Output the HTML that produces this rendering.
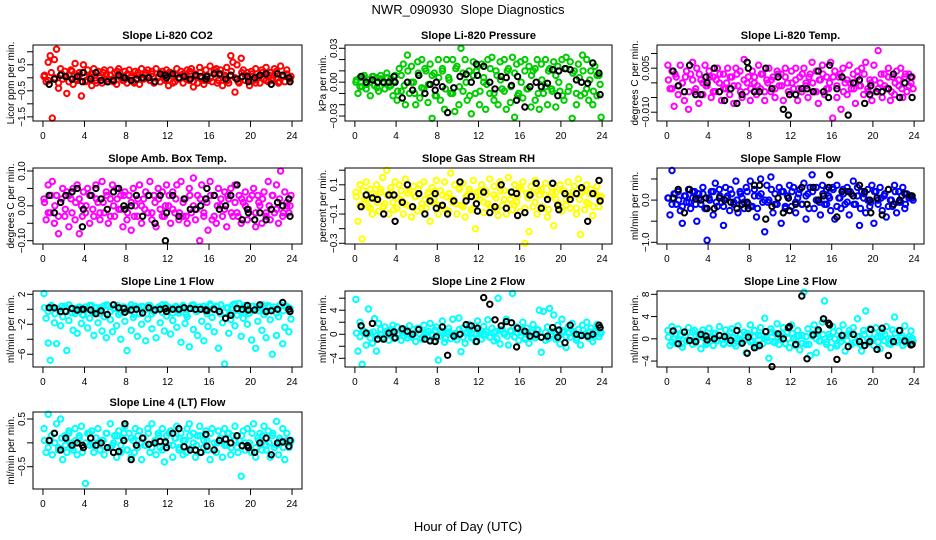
<!DOCTYPE html>
<html><head><meta charset="utf-8"><style>
html,body{margin:0;padding:0;background:#fff}
svg{display:block;font-family:"Liberation Sans",Arial,sans-serif}
</style></head><body>
<svg id="chart" width="936" height="540" viewBox="0 0 936 540" xmlns="http://www.w3.org/2000/svg">
<rect width="936" height="540" fill="#fff"/>
<text x="468" y="14" font-size="13" text-anchor="middle" style="white-space:pre">NWR_090930  Slope Diagnostics</text>
<text x="468" y="531" font-size="13" text-anchor="middle">Hour of Day (UTC)</text>
</svg>
<script>
const xTicks=[0,4,8,12,16,20,24];
const colorHours=[0.1,0.3,0.5,0.7,0.9,1.1,1.3,1.5,1.7,1.9,2.1,2.3,2.5,2.7,2.9,3.1,3.3,3.5,3.7,3.9,4.1,4.3,4.5,4.7,4.9,5.1,5.3,5.5,5.7,5.9,6.1,6.3,6.5,6.7,6.9,7.1,7.3,7.5,7.7,7.9,8.1,8.3,8.5,8.7,8.9,9.1,9.3,9.5,9.7,9.9,10.1,10.3,10.5,10.7,10.9,11.1,11.3,11.5,11.7,11.9,12.1,12.3,12.5,12.7,12.9,13.1,13.3,13.5,13.7,13.9,14.1,14.3,14.5,14.7,14.9,15.1,15.3,15.5,15.7,15.9,16.1,16.3,16.5,16.7,16.9,17.1,17.3,17.5,17.7,17.9,18.1,18.3,18.5,18.7,18.9,19.1,19.3,19.5,19.7,19.9,20.1,20.3,20.5,20.7,20.9,21.1,21.3,21.5,21.7,21.9,22.1,22.3,22.5,22.7,22.9,23.1,23.3,23.5,23.7,23.9];
const coreHours=[0.15,0.5,0.8,1.15,1.5,1.8,2.15,2.5,2.8,3.15,3.5,3.8,4.15,4.5,4.8,5.15,5.5,5.8,6.15,6.5,6.8,7.15,7.5,7.8,8.15,8.5,8.8,9.15,9.5,9.8,10.15,10.5,10.8,11.15,11.5,11.8,12.15,12.5,12.8,13.15,13.5,13.8,14.15,14.5,14.8,15.15,15.5,15.8,16.15,16.5,16.8,17.15,17.5,17.8,18.15,18.5,18.8,19.15,19.5,19.8,20.15,20.5,20.8,21.15,21.5,21.8,22.15,22.5,22.8,23.15,23.5,23.8];
const blackHours=[0.6,1.1,1.7,2.2,2.8,3.3,3.8,3.9,4.6,5.1,5.6,6.2,6.8,7.3,7.8,7.9,8.5,9.0,9.6,10.2,10.8,11.3,11.8,11.9,12.5,13.1,13.6,14.2,14.7,15.2,15.7,15.8,16.5,17.0,17.6,18.1,18.7,19.2,19.7,19.8,20.4,20.9,21.5,22.0,22.6,23.1,23.7,23.8];

const co2Vals=[0.05,-0.15,0.6,0.85,-1.55,0.7,1.1,-0.4,0.35,-0.05,0.25,-0.6,0.1,0.3,-0.25,0.55,-0.1,0.2,-0.7,0.5,-0.15,0.3,0.05,-0.3,0.35,-0.1,0.25,0.0,-0.2,0.3,0.1,-0.15,0.3,-0.05,0.2,-0.25,0.35,0.05,-0.1,0.25,-0.2,0.3,0.0,-0.15,0.25,0.1,-0.25,0.35,-0.05,0.2,0.3,-0.1,0.15,-0.2,0.35,0.0,-0.15,0.25,-0.05,0.3,-0.3,0.2,0.05,-0.15,0.35,-0.05,0.25,-0.2,0.1,0.3,-0.1,0.35,-0.35,0.15,-0.2,0.4,0.0,-0.25,0.3,-0.1,0.45,-0.15,0.2,0.35,-0.1,0.3,-0.3,0.1,0.4,-0.2,0.85,0.6,-0.55,0.5,-0.2,0.75,0.3,-0.1,0.2,-0.3,0.25,-0.1,0.35,0.0,-0.2,0.3,-0.05,0.4,-0.15,0.2,-0.1,0.35,0.0,-0.2,0.45,0.1,-0.15,0.3,0.0,0.05];
const co2Core=[0.1,-0.1,0.2,0.0,-0.2,0.15,0.05,-0.15,0.25,-0.05,0.1,0.2,-0.1,0.0,0.15,-0.2,0.05,0.2,-0.05,0.1,-0.15,0.25,0.0,-0.1,0.15,0.05,-0.2,0.2,-0.05,0.1,0.0,0.25,-0.15,0.05,0.15,-0.1,0.2,-0.2,0.1,0.0,0.15,-0.05,0.25,-0.15,0.05,0.2,-0.1,0.1,0.0,0.3,-0.2,0.15,0.05,-0.1,0.25,0.0,-0.15,0.2,0.1,-0.05,0.15,-0.2,0.05,0.2,-0.1,0.1,0.0,0.25,-0.15,0.05,0.15,-0.05];
const co2Black=[-0.25,-0.05,0.1,0.05,-0.05,0.05,-0.15,0.2,-0.05,0.2,-0.1,-0.15,-0.1,0.1,0.0,0.0,-0.1,-0.05,0.0,0.0,-0.15,0.15,0.1,0.0,0.15,0.0,0.05,-0.05,0.1,0.05,-0.05,0.05,0.15,0.15,-0.05,0.1,-0.05,0.05,0.05,-0.15,0.0,0.1,0.15,-0.25,0.15,0.1,0.0,-0.15];

const presVals=[0.0,-0.01,0.004,-0.004,0.006,-0.006,0.002,-0.012,0.005,-0.003,0.004,-0.008,0.006,0.0,-0.006,0.008,-0.004,0.003,-0.012,0.006,-0.016,0.012,-0.008,0.016,-0.02,0.024,-0.01,0.014,0.0,-0.02,0.018,-0.014,0.02,-0.006,0.01,-0.018,0.016,-0.032,0.008,-0.012,0.02,-0.016,0.012,-0.024,0.02,0.004,-0.01,0.02,-0.026,0.014,-0.02,0.03,-0.008,0.02,-0.016,0.01,-0.028,0.018,-0.01,0.014,-0.02,0.016,0.0,-0.024,0.02,-0.01,0.022,-0.016,0.01,-0.02,0.018,-0.006,0.02,-0.024,0.012,-0.018,0.022,-0.031,0.016,-0.01,0.018,-0.014,0.02,-0.006,0.014,-0.022,0.01,-0.016,0.02,-0.024,0.016,-0.01,0.02,-0.02,0.012,-0.006,0.018,-0.022,0.014,-0.008,0.02,-0.016,0.022,-0.008,0.018,-0.032,0.01,-0.02,0.016,-0.012,0.024,-0.01,0.02,-0.016,0.01,-0.02,0.014,-0.012,0.006,-0.031];
const presCore=[0.002,-0.004,0.004,-0.002,0.0,0.005,-0.005,0.003,-0.001,0.004,-0.003,0.001,-0.008,0.006,-0.003,0.01,0.0,-0.01,0.008,-0.005,0.012,-0.002,0.006,-0.012,0.004,0.01,-0.006,0.002,-0.01,0.012,-0.004,0.008,0.0,-0.012,0.006,0.01,-0.008,0.004,-0.002,0.012,-0.01,0.006,0.002,-0.008,0.01,-0.004,0.008,-0.012,0.0,0.01,-0.006,0.006,0.012,-0.01,0.002,-0.004,0.01,-0.008,0.006,0.0,-0.012,0.012,-0.004,0.008,-0.01,0.004,0.01,-0.006,0.002,-0.008,0.006,-0.002];
const presBlack=[0.005,0.0,0.002,0.0,0.0,0.0,0.005,0.0,-0.014,0.0,-0.007,0.006,-0.01,-0.002,-0.007,0.0,-0.004,-0.027,-0.005,0.005,0.007,0.0,0.016,0.006,0.014,0.0,-0.006,0.005,0.004,-0.003,-0.016,0.005,-0.022,-0.004,0.0,-0.004,-0.001,0.011,-0.012,0.01,0.012,0.011,0.002,0.0,-0.001,0.017,0.008,-0.011];

const ltempVals=[0.006,-0.002,0.004,-0.008,0.002,-0.004,0.006,0.0,-0.006,0.004,-0.009,0.003,0.007,-0.003,0.005,-0.007,0.001,-0.004,0.006,-0.001,0.004,-0.005,0.002,-0.003,0.005,0.0,-0.006,0.003,-0.002,0.005,-0.004,0.002,-0.007,0.005,-0.001,0.004,-0.005,0.008,-0.003,0.002,-0.006,0.004,0.0,-0.004,0.006,-0.002,0.003,-0.006,0.001,0.005,-0.003,0.002,-0.005,0.004,-0.001,0.003,-0.006,0.005,0.0,-0.004,0.004,-0.002,0.005,-0.006,0.002,-0.003,0.005,0.0,-0.005,0.003,0.007,-0.003,0.004,-0.007,0.001,0.006,-0.004,0.002,-0.002,0.007,-0.012,0.004,-0.005,0.002,-0.009,0.005,0.0,-0.004,0.006,-0.002,0.003,-0.007,0.004,-0.001,0.005,-0.004,0.007,-0.002,0.001,-0.006,0.006,-0.003,0.011,0.0,-0.005,0.003,-0.002,0.005,-0.006,0.002,-0.004,0.004,-0.001,0.005,-0.005,0.002,-0.003,0.003,0.0,-0.002];
const ltempCore=[0.001,-0.002,0.003,-0.001,0.0,0.002,-0.003,0.001,-0.002,0.003,0.0,-0.001,0.002,-0.003,0.001,0.003,-0.002,0.0,0.002,-0.001,0.003,-0.003,0.001,0.0,-0.002,0.002,-0.001,0.003,-0.003,0.0,0.001,-0.002,0.003,-0.001,0.002,-0.003,0.0,0.001,-0.002,0.003,-0.001,0.002,0.0,-0.003,0.001,0.003,-0.002,0.0,0.002,-0.001,0.003,-0.003,0.001,0.0,-0.002,0.002,-0.001,0.003,-0.003,0.0,0.001,-0.002,0.003,-0.001,0.002,-0.003,0.0,0.001,-0.002,0.003,-0.001,0.002];
const ltempBlack=[0.004,-0.001,-0.003,0.006,-0.004,-0.004,0.002,0.0,0.005,-0.003,-0.006,-0.002,-0.007,-0.004,0.007,0.005,-0.003,-0.003,0.005,-0.002,0.002,-0.009,-0.011,-0.004,-0.004,-0.002,-0.002,-0.003,0.004,-0.003,-0.005,0.006,-0.002,0.002,-0.011,0.0,0.001,-0.007,-0.004,-0.001,-0.003,-0.003,-0.002,0.003,-0.005,0.0,0.002,-0.005];

const ambVals=[0.02,-0.04,0.06,-0.02,0.07,-0.05,0.03,-0.08,0.01,0.05,-0.03,0.04,-0.06,0.02,0.05,-0.04,0.06,-0.08,0.0,0.04,-0.02,0.05,-0.05,0.03,-0.03,0.06,0.01,-0.04,0.07,-0.02,0.04,-0.05,0.02,0.06,-0.03,0.05,-0.01,0.03,-0.06,0.04,-0.04,0.03,-0.07,0.05,0.0,-0.03,0.06,-0.05,0.02,0.04,-0.02,0.07,-0.04,0.03,-0.06,0.05,-0.01,0.04,-0.03,0.06,0.0,-0.05,0.04,-0.02,0.06,-0.04,0.07,-0.03,0.02,-0.05,0.05,-0.02,0.08,-0.04,0.03,-0.1,0.06,-0.03,0.02,-0.07,0.07,-0.04,0.03,-0.05,0.05,0.0,-0.03,0.04,-0.06,0.02,0.05,-0.03,0.06,-0.02,0.03,-0.05,0.01,0.04,-0.04,0.02,-0.03,0.05,-0.06,0.03,0.0,-0.05,0.04,-0.02,0.07,-0.04,0.03,-0.02,0.06,-0.05,0.1,-0.03,0.04,0.0,-0.02,0.03];
const ambCore=[0.01,-0.02,0.03,0.0,-0.03,0.02,-0.01,0.03,-0.02,0.01,0.02,-0.03,0.0,0.03,-0.01,0.02,-0.02,0.01,0.03,-0.03,0.0,0.02,-0.01,0.03,-0.02,0.01,-0.03,0.02,0.0,-0.01,0.03,-0.02,0.01,0.02,-0.03,0.0,0.03,-0.01,0.02,-0.02,0.01,-0.03,0.03,0.0,-0.01,0.02,-0.02,0.01,0.03,-0.03,0.0,0.02,-0.01,0.03,-0.02,0.01,-0.03,0.02,0.0,-0.01,0.03,-0.02,0.01,0.02,-0.03,0.0,0.03,-0.01,0.02,-0.02,0.01,0.0];
const ambBlack=[0.03,-0.02,0.01,0.03,0.04,0.05,-0.06,-0.01,0.03,0.05,0.02,-0.01,0.04,0.05,0.0,-0.01,0.0,0.03,-0.03,0.03,-0.05,0.03,-0.1,-0.02,0.03,-0.03,0.02,-0.01,-0.01,0.0,0.02,0.05,0.03,-0.01,0.0,0.03,0.06,-0.04,-0.01,-0.02,-0.04,-0.02,-0.04,-0.01,0.01,0.0,0.02,-0.03];

const rhVals=[0.05,-0.15,0.1,-0.27,0.0,0.12,-0.05,0.07,-0.1,0.02,0.1,-0.08,0.05,0.15,-0.03,0.2,-0.1,0.08,-0.02,0.12,-0.06,0.1,0.0,-0.1,0.14,-0.04,0.06,-0.12,0.09,0.02,-0.08,0.1,-0.03,0.12,-0.06,0.04,-0.15,0.08,0.0,0.13,-0.1,0.06,-0.05,0.12,0.02,-0.08,0.18,-0.02,0.1,-0.1,0.08,-0.04,0.11,-0.12,0.03,0.07,-0.07,0.13,-0.2,0.05,0.0,0.1,-0.09,0.06,-0.03,0.14,-0.06,0.09,0.01,-0.11,0.12,-0.04,0.06,-0.1,0.15,0.0,-0.07,0.1,-0.02,0.08,-0.08,0.12,-0.3,0.04,-0.22,0.09,-0.05,0.13,-0.1,0.03,0.07,-0.06,0.11,-0.12,0.02,0.08,-0.18,0.05,-0.04,0.1,-0.08,0.06,0.0,0.12,-0.06,0.03,0.09,-0.1,0.14,-0.24,0.05,-0.07,0.1,-0.03,0.07,-0.11,0.04,0.09,-0.05,0.02];
const rhCore=[0.02,-0.04,0.06,0.0,-0.06,0.04,-0.02,0.07,-0.05,0.03,0.05,-0.07,0.01,0.06,-0.03,0.04,-0.05,0.02,0.07,-0.06,0.0,0.05,-0.02,0.06,-0.04,0.03,-0.07,0.04,0.0,-0.03,0.07,-0.05,0.02,0.05,-0.06,0.01,0.06,-0.02,0.04,-0.05,0.03,-0.07,0.06,0.0,-0.03,0.05,-0.04,0.02,0.07,-0.06,0.01,0.04,-0.02,0.06,-0.05,0.03,-0.07,0.05,0.0,-0.03,0.06,-0.04,0.02,0.05,-0.06,0.0,0.07,-0.02,0.04,-0.05,0.03,0.01];
const rhBlack=[-0.05,0.03,0.01,0.0,-0.1,0.03,0.03,-0.15,-0.02,0.1,-0.05,0.04,-0.1,-0.01,0.04,-0.06,-0.04,-0.1,-0.01,0.12,-0.01,0.02,-0.03,-0.08,0.05,-0.09,-0.05,0.1,-0.06,0.05,0.04,-0.11,-0.09,0.03,0.11,-0.06,0.0,0.11,-0.04,-0.07,0.04,0.0,0.04,0.08,-0.15,0.04,0.13,-0.01];

const sampVals=[0.05,-0.35,0.7,0.15,-0.1,0.2,-0.25,-0.55,0.1,-0.05,0.25,-0.2,0.05,0.2,-0.5,0.15,-0.1,0.3,-0.2,-0.95,0.05,0.2,-0.35,0.4,-0.15,0.25,-0.05,-0.6,0.3,0.1,-0.25,0.15,-0.05,0.45,-0.3,0.2,0.05,-0.2,0.3,-0.1,0.45,-0.15,0.25,-0.4,0.1,0.5,-0.05,-0.75,0.35,0.0,0.55,-0.3,0.15,-0.1,0.3,-0.55,0.2,-0.2,0.1,0.35,-0.15,0.3,-0.3,0.05,0.25,-0.1,0.4,-0.45,0.15,0.3,0.6,-0.2,0.3,0.0,-0.35,0.35,-0.1,0.25,0.1,-0.25,0.3,-0.45,0.35,0.05,-0.2,0.25,-0.1,0.3,-0.35,0.15,0.45,-0.1,0.3,-0.6,0.2,0.05,-0.3,0.25,-0.15,0.35,-0.55,0.2,0.0,0.3,-0.25,0.1,-0.4,0.25,0.0,-0.15,0.35,-0.3,0.2,-0.05,0.3,-0.2,0.15,0.05,0.1,0.0];
const sampCore=[0.05,-0.1,0.15,0.0,-0.15,0.1,-0.05,0.2,-0.1,0.05,0.15,-0.2,0.0,0.2,-0.05,0.1,-0.15,0.05,0.25,-0.1,0.0,0.15,-0.05,0.2,-0.15,0.1,-0.2,0.15,0.0,-0.05,0.25,-0.1,0.05,0.2,-0.15,0.05,0.2,-0.05,0.15,-0.1,0.1,-0.2,0.2,0.0,-0.05,0.15,-0.1,0.05,0.25,-0.15,0.05,0.15,-0.05,0.2,-0.1,0.1,-0.2,0.15,0.0,-0.05,0.2,-0.1,0.05,0.15,-0.15,0.0,0.2,-0.05,0.1,-0.1,0.1,0.05];
const sampBlack=[0.05,0.25,-0.3,0.25,0.03,0.0,0.05,-0.2,-0.2,0.05,0.0,-0.05,-0.2,-0.1,-0.05,-0.2,0.35,0.35,-0.45,-0.15,0.05,-0.3,0.05,-0.25,-0.1,0.3,-0.1,0.3,0.0,0.1,0.3,0.6,-0.4,0.2,0.2,0.1,0.35,0.2,0.0,-0.3,0.05,-0.35,0.25,-0.1,0.0,0.15,0.1,0.1];

const l1Vals=[2.1,-1.2,-4.5,-6.8,0.3,-1.8,-4.6,0.0,-2.2,-1.0,0.4,-5.5,-1.5,0.2,-2.8,-0.6,-3.2,0.1,-1.9,-0.8,0.3,-2.5,-1.2,0.5,-3.5,-0.4,-1.8,0.2,-2.9,-1.0,-3.8,0.4,-1.4,-3.0,0.1,-2.2,-0.7,-4.0,0.3,-1.6,-5.5,0.2,-2.8,-1.1,0.4,-3.6,-0.6,-2.0,0.3,-4.2,-1.3,0.5,-2.6,-0.3,-3.8,0.1,-1.8,0.6,-2.9,-0.9,0.3,-3.3,-1.5,0.2,-2.4,-0.5,-4.4,0.4,-1.9,-1.0,-5.0,0.5,-2.7,-0.2,-3.5,0.3,-1.6,-4.2,0.1,-2.3,0.7,-1.1,-3.0,0.4,-5.2,-0.6,-1.8,-7.3,0.2,-3.2,-1.4,0.6,-2.2,-0.8,0.8,-3.6,-1.2,0.3,-2.0,-0.5,-4.1,0.4,-5.2,-1.6,0.2,-2.8,-0.7,-3.8,0.5,-1.4,-6.0,0.3,-3.5,-1.0,0.6,-4.6,-2.4,0.2,-3.0,-1.3];
const l1Core=[0.2,-0.3,0.5,-0.6,0.0,0.4,-0.2,0.6,-0.5,0.1,0.3,-0.7,0.0,0.5,-0.4,0.2,-0.6,0.4,0.6,-0.3,0.1,0.5,-0.5,0.3,-0.2,0.6,-0.7,0.2,0.4,-0.1,0.5,-0.6,0.0,0.3,-0.4,0.6,0.1,-0.5,0.4,-0.2,0.5,-0.7,0.2,0.6,-0.3,0.0,0.4,-0.6,0.5,-0.1,0.3,0.6,-0.4,0.2,-0.5,0.7,0.0,-0.3,0.5,-0.6,0.4,0.1,-0.2,0.6,-0.4,0.3,0.0,-0.5,0.5,-0.2,0.4,0.1];
const l1Black=[0.2,0.2,-0.3,-0.3,0.1,-0.1,0.0,0.0,-0.1,-0.6,-0.2,-0.7,0.6,0.2,0.1,-0.4,-0.1,0.0,-0.5,0.2,-0.1,0.0,0.1,-0.3,0.0,0.0,0.2,0.1,0.0,0.0,-0.1,-0.2,0.0,-0.3,-1.2,-0.8,0.1,0.0,0.5,-0.1,-0.1,0.6,-0.3,-0.2,0.0,0.9,0.0,-0.3];

const l2Vals=[5.8,-2.8,2.0,-5.0,0.5,-1.8,4.2,0.2,-1.5,2.6,-2.8,1.8,0.0,-0.8,1.2,0.5,-1.0,0.8,1.5,-0.5,1.2,0.0,-1.0,0.9,0.3,-0.6,1.4,-0.2,0.8,-1.2,1.0,0.0,-0.8,1.5,0.4,-0.4,1.8,0.0,-1.1,1.2,-4.3,0.6,2.2,-1.3,0.3,1.0,-0.7,2.5,0.1,-0.9,2.7,-2.9,1.0,-1.5,0.4,1.6,-0.6,0.9,-1.2,2.2,0.2,-0.8,1.3,0.0,2.4,-0.5,1.0,-1.1,0.5,6.0,-1.6,0.8,0.2,2.5,-1.8,0.6,6.8,-0.4,1.2,-1.0,0.4,2.0,-0.8,1.0,-1.5,0.3,1.6,-0.6,0.8,4.0,-3.0,3.8,-1.0,1.2,4.3,0.0,3.2,-0.8,1.5,-1.6,2.5,0.4,-2.2,1.2,-0.5,1.8,0.2,-1.0,0.8,-1.8,1.5,0.0,2.0,-0.6,1.0,-1.2,0.5,1.6,-0.4,0.3];
const l2Core=[0.2,-0.4,0.6,0.0,-0.6,0.4,-0.2,0.8,-0.5,0.3,0.6,-0.7,0.1,0.7,-0.3,0.4,-0.5,0.2,0.8,-0.6,0.0,0.5,-0.2,0.7,-0.4,0.3,-0.7,0.4,0.0,-0.3,0.8,-0.5,0.2,0.6,-0.6,0.1,0.7,-0.2,0.4,-0.5,0.3,-0.7,0.6,0.0,-0.3,0.5,-0.4,0.2,0.8,-0.6,0.1,0.4,-0.2,0.7,-0.5,0.3,-0.7,0.5,0.0,-0.3,0.6,-0.4,0.2,0.5,-0.6,0.0,0.7,-0.2,0.4,-0.5,0.3,0.1];
const l2Black=[1.4,0.2,1.8,-0.8,-0.8,0.2,0.4,-0.6,0.9,0.5,0.0,0.8,-0.8,-1.1,-1.2,-0.4,1.2,-3.5,-0.3,0.0,1.6,1.4,-1.2,1.0,6.1,5.0,2.4,1.4,2.1,1.9,-2.1,1.0,0.5,-0.3,0.0,-0.5,-0.3,1.1,-0.5,0.7,-1.4,1.5,0.0,-0.2,-0.3,0.0,1.5,1.1];

const l3Vals=[1.5,-1.2,2.2,0.0,-0.8,1.8,0.5,-1.5,1.2,-0.4,2.0,0.3,-1.0,1.5,-0.2,0.8,-1.8,1.6,0.0,-0.7,1.9,0.4,-1.2,1.0,-0.3,2.2,0.0,-1.0,1.6,0.5,-0.8,1.8,0.2,-1.3,2.3,0.0,-0.6,1.2,-2.5,0.8,2.5,-0.4,1.5,-1.5,0.6,2.0,-0.9,3.7,0.2,-3.5,1.8,-0.5,1.0,2.7,-1.0,0.4,2.0,-0.8,1.2,-1.6,2.5,0.0,-1.2,1.5,-2.0,0.6,8.4,-1.0,1.8,-3.0,0.5,2.5,-2.5,1.2,-0.4,3.0,6.8,-1.0,0.8,-1.6,2.2,0.0,-1.3,1.4,-0.5,2.5,-2.2,0.8,1.5,-1.0,2.0,-0.6,3.6,0.4,-2.2,1.5,5.0,-0.8,1.8,0.0,-1.2,2.0,0.4,-1.8,1.2,-0.3,2.2,0.0,-1.0,1.6,3.9,-0.6,1.5,0.2,-1.2,2.3,0.0,-0.8,1.4,-0.4];
const l3Core=[0.3,-0.6,0.9,0.0,-0.9,0.6,-0.3,1.2,-0.7,0.4,0.9,-1.0,0.1,1.0,-0.4,0.6,-0.8,0.3,1.2,-0.9,0.0,0.8,-0.3,1.0,-0.6,0.4,-1.0,0.6,0.0,-0.4,1.2,-0.7,0.3,0.9,-0.9,0.1,1.0,-0.3,0.6,-0.8,0.4,-1.0,0.9,0.0,-0.4,0.8,-0.6,0.3,1.2,-0.9,0.1,0.6,-0.3,1.0,-0.7,0.4,-1.0,0.8,0.0,-0.4,0.9,-0.6,0.3,0.8,-0.9,0.0,1.0,-0.3,0.6,-0.7,0.4,0.1];
const l3Black=[1.4,-0.9,1.2,-0.3,-0.5,0.8,0.5,-0.2,0.0,0.6,0.4,-0.3,1.5,-0.8,-2.6,0.3,-1.6,-1.2,1.3,-5.0,0.9,0.0,2.0,2.2,-1.0,7.7,-3.6,0.7,1.6,3.6,2.8,2.5,-3.7,0.6,-1.4,0.8,-0.5,-1.2,-0.5,1.7,-1.9,1.9,-3.0,-0.5,1.5,-0.4,-1.1,-1.0];

const l4Vals=[0.3,-0.2,0.6,0.05,-0.25,0.2,0.4,-0.1,0.5,-0.35,0.15,-0.2,0.25,0.0,-0.15,0.3,-0.25,0.1,0.35,-0.1,-0.85,0.2,-0.05,0.25,-0.2,0.1,0.3,-0.15,0.05,-0.25,0.2,-0.1,0.4,-0.05,0.15,-0.3,0.25,-0.2,0.1,0.35,-0.15,0.2,-0.3,0.05,0.3,-0.1,0.25,-0.35,0.1,-0.05,0.3,-0.2,0.4,0.0,-0.25,0.2,-0.1,0.3,-0.4,0.15,-0.05,0.25,-0.3,0.1,0.35,-0.15,0.2,-0.25,0.05,0.3,0.4,-0.1,0.2,-0.3,0.15,0.35,-0.2,0.05,0.25,-0.15,-0.35,0.3,0.0,-0.2,0.25,0.1,-0.3,0.3,-0.05,0.2,-0.25,0.15,0.35,-0.1,0.05,-0.7,0.25,-0.15,0.3,0.0,-0.2,0.4,-0.3,0.1,0.2,-0.15,0.35,-0.05,0.25,-0.3,0.15,-0.1,0.45,-0.25,0.05,0.3,-0.35,0.2,-0.1,0.05];
const l4Core=[0.05,-0.1,0.15,0.0,-0.15,0.1,-0.05,0.2,-0.1,0.05,0.15,-0.2,0.0,0.2,-0.05,0.1,-0.15,0.05,0.2,-0.1,0.0,0.15,-0.05,0.2,-0.15,0.1,-0.2,0.15,0.0,-0.05,0.2,-0.1,0.05,0.15,-0.15,0.0,0.2,-0.05,0.1,-0.1,0.05,-0.2,0.15,0.0,-0.05,0.15,-0.1,0.05,0.2,-0.15,0.0,0.1,-0.05,0.2,-0.1,0.05,-0.2,0.15,0.0,-0.05,0.2,-0.1,0.05,0.15,-0.15,0.0,0.2,-0.05,0.1,-0.1,0.05,0.0];
const l4Black=[0.05,0.2,-0.15,0.1,-0.05,0.0,-0.05,-0.1,0.1,-0.05,0.0,-0.1,-0.2,-0.18,0.05,0.4,-0.35,-0.05,0.1,-0.03,0.0,0.03,0.02,-0.1,0.2,0.3,-0.08,-0.15,-0.15,-0.2,0.18,-0.07,-0.15,0.05,0.08,0.0,0.15,-0.06,-0.06,-0.1,-0.2,0.0,0.1,-0.25,0.0,0.02,-0.07,0.05];

const panelTitles=["Slope Li-820 CO2","Slope Li-820 Pressure","Slope Li-820 Temp.","Slope Amb. Box Temp.","Slope Gas Stream RH","Slope Sample Flow","Slope Line 1 Flow","Slope Line 2 Flow","Slope Line 3 Flow","Slope Line 4 (LT) Flow"];
const yTitles=["Licor ppm per min.","kPa per min.","degrees C per min.","degrees C per min.","percent per min.","ml/min per min.","ml/min per min.","ml/min per min.","ml/min per min.","ml/min per min."];
const yTicks=[[-1.5,-1,-0.5,0,0.5,1],[-0.03,-0.02,-0.01,0,0.01,0.02,0.03],[-0.01,-0.005,0,0.005,0.01],[-0.1,-0.05,0,0.05,0.1],[-0.3,-0.2,-0.1,0,0.1,0.2],[-1,-0.5,0,0.5],[-6,-4,-2,0,2],[-4,-2,0,2,4,6],[-4,0,4,8],[-0.5,0,0.5]];
const yTickLabels=[["-1.5","","-0.5","","0.5",""],["-0.03","","","0.00","","","0.03"],["-0.010","","","0.005",""],["-0.10","","0.00","","0.10"],["-0.3","","-0.1","","0.1",""],["-1.0","","0.0",""],["-6","","-2","","2"],["-4","","0","","4",""],["-4","0","4","8"],["-0.5","","0.5"]];
const yLims=[[-1.66,1.26],[-0.0344,0.0329],[-0.013,0.0129],[-0.1095,0.1086],[-0.305,0.215],[-1.04,0.76],[-7.7,2.44],[-5.45,7.2],[-5.07,8.6],[-0.967,0.647]];
const colorVals=[co2Vals,presVals,ltempVals,ambVals,rhVals,sampVals,l1Vals,l2Vals,l3Vals,l4Vals];
const coreVals=[co2Core,presCore,ltempCore,ambCore,rhCore,sampCore,l1Core,l2Core,l3Core,l4Core];
const blackVals=[co2Black,presBlack,ltempBlack,ambBlack,rhBlack,sampBlack,l1Black,l2Black,l3Black,l4Black];
const seriesColors=["#ff0000","#00cd00","#ff00ff","#ff00ff","#ffff00","#0000ff","#00ffff","#00ffff","#00ffff","#00ffff"];

const colBox=[[33,302],[345,612],[657,924]];
const rowBox=[[45,121],[168,244],[291,367],[412,489]];
const NS="http://www.w3.org/2000/svg";
const svg=document.getElementById('chart');
function mk(tag,attrs,parent){const e=document.createElementNS(NS,tag);for(const k in attrs)e.setAttribute(k,attrs[k]);(parent||svg).appendChild(e);return e;}

for(let p=0;p<10;p++){
  const c=p%3,r=Math.floor(p/3);
  const L=colBox[c][0],R=colBox[c][1],T=rowBox[r][0],B=rowBox[r][1];
  const lo=yLims[p][0],hi=yLims[p][1];
  const xS=h=>L+(h+0.96)/25.92*(R-L);
  const yS=v=>B-(v-lo)/(hi-lo)*(B-T);
  const g=mk('g',{});
  
  
  const t=mk('text',{x:(L+R)/2,y:T-6,'font-size':11,'font-weight':'bold','text-anchor':'middle'},g);
  
  
  t.textContent=panelTitles[p];
  const yt=mk('text',{transform:`translate(${L-19},${(T+B)/2}) rotate(-90)`,'font-size':10,'text-anchor':'middle'},g);
  
  
  yt.textContent=yTitles[p];
  const pts=mk('g',{fill:'none','stroke-width':2,stroke:seriesColors[p]},g);
  
  
  const cv=colorVals[p];
  for(let i=0;i<Math.min(cv.length,colorHours.length);i++){
    const ci=mk('circle',{cx:xS(colorHours[i]).toFixed(1),cy:yS(cv[i]).toFixed(1),r:2.7},pts);
    
    
  }
  const kv=coreVals[p];
  for(let i=0;i<Math.min(kv.length,coreHours.length);i++){
    const ci=mk('circle',{cx:xS(coreHours[i]).toFixed(1),cy:yS(kv[i]).toFixed(1),r:2.7},pts);
    
    
  }
  const bpts=mk('g',{fill:'none','stroke-width':2,stroke:'#000'},g);
  
  
  const bv=blackVals[p];
  for(let i=0;i<Math.min(bv.length,blackHours.length);i++){
    const ci=mk('circle',{cx:xS(blackHours[i]).toFixed(1),cy:yS(bv[i]).toFixed(1),r:2.7},bpts);
    
    
  }
  const box=mk('rect',{x:L,y:T,width:R-L,height:B-T,fill:'none',stroke:'#000','stroke-width':1},g);
  
  
  const xa=mk('g',{},g);
  
  
  mk('line',{x1:xS(0),x2:xS(24),y1:B,y2:B,stroke:'#000'},xa);
  xTicks.forEach(h=>{
    mk('line',{x1:xS(h),x2:xS(h),y1:B,y2:B+6,stroke:'#000'},xa);
    const lb=mk('text',{x:xS(h),y:B+18,'font-size':10,'text-anchor':'middle'},xa);
    
    
    lb.textContent=h;
  });
  const ya=mk('g',{},g);
  
  
  const tk=yTicks[p];
  mk('line',{x1:L,x2:L,y1:yS(tk[0]),y2:yS(tk[tk.length-1]),stroke:'#000'},ya);
  tk.forEach((v,i)=>{
    mk('line',{x1:L-6,x2:L,y1:yS(v),y2:yS(v),stroke:'#000'},ya);
    const s=yTickLabels[p][i];
    if(s){
      const lb=mk('text',{transform:`translate(${L-8},${yS(v)}) rotate(-90)`,'font-size':10,'text-anchor':'middle'},ya);
      
      
      lb.textContent=s.replace('-','\u2212');
    }
  });
}
</script>
</body></html>
